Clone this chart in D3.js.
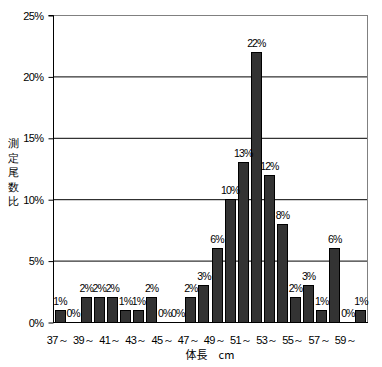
<!DOCTYPE html>
<html><head><meta charset="utf-8">
<script src="https://cdn.jsdelivr.net/npm/d3@7"></script>
<style>
body{margin:0;background:#fff;}
svg text{font-family:"Liberation Sans",Arial,sans-serif;fill:#000;}
</style></head>
<body><svg id="c" width="382" height="367"></svg>
<script>
const categories = ["37","38","39","40","41","42","43","44","45","46","47","48","49","50","51","52","53","54","55","56","57","58","59","60"];
const values = [1,0,2,2,2,1,1,2,0,0,2,3,6,10,13,22,12,8,2,3,1,6,0,1];
const xTickLabels = ["37～","39～","41～","43～","45～","47～","49～","51～","53～","55～","57～","59～"];
const yTicks = [0,5,10,15,20,25];
const yTitle = "測定尾数比";
const xTitle = "体長　cm";

const svg = d3.select("#c");
const L = 53, R = 367, T = 15, B = 322;
const x = d3.scaleBand().domain(categories).range([L, R]).paddingInner(0.23).paddingOuter(0.115);
const y = d3.scaleLinear().domain([0, 25]).range([B, T]);

// gridlines
svg.append("g").selectAll("line").data(yTicks.filter(t => t > 0 && t < 25)).join("line")
  .attr("x1", L).attr("x2", R).attr("y1", d => y(d) + 0.5).attr("y2", d => y(d) + 0.5)
  .attr("stroke", "#000").attr("stroke-width", 1);
// top & right border gray
svg.append("line").attr("x1", L).attr("x2", R).attr("y1", y(25) + 0.5).attr("y2", y(25) + 0.5).attr("stroke", "#808080");
svg.append("line").attr("x1", R + 0.5).attr("x2", R + 0.5).attr("y1", T).attr("y2", B).attr("stroke", "#808080");

// bars
svg.append("g").selectAll("rect").data(values).join("rect")
  .attr("x", (d, i) => Math.round(x(categories[i])) + 0.5)
  .attr("width", Math.round(x.bandwidth()))
  .attr("y", d => Math.round(y(d)) + 0.5)
  .attr("height", d => Math.max(0, B - Math.round(y(d))))
  .attr("fill", "#333333").attr("stroke", "#000").attr("stroke-width", 1)
  .style("display", d => d > 0 ? null : "none");

// bar labels
svg.append("g").selectAll("text").data(values).join("text")
  .attr("x", (d, i) => x(categories[i]) + x.bandwidth() / 2 + 0.5)
  .attr("y", d => y(d) - 5)
  .attr("text-anchor", "middle").attr("font-size", 10.5).attr("letter-spacing", "-0.9")
  .text(d => d + "%");

// y axis
const yAxis = d3.axisLeft(y).tickValues(yTicks).tickFormat(d => d + "%").tickSize(5).tickPadding(5);
const ga = svg.append("g").attr("transform", `translate(${L + 0.5},0.5)`).call(yAxis);
ga.select(".domain").attr("stroke", "#000").attr("d", `M-5,${T}H0V${B}`);
ga.selectAll(".tick line").attr("stroke", "#000");
ga.selectAll("text").attr("font-size", 11).attr("letter-spacing", "-0.6").attr("fill", "#000")
  .attr("font-family", "Liberation Sans, Arial, sans-serif");

// x axis baseline
const xAxis = d3.axisBottom(x).tickValues(categories.filter((c, i) => i % 2 === 0))
  .tickFormat((d, i) => xTickLabels[i]).tickSize(0).tickPadding(14);
const gx = svg.append("g").attr("transform", `translate(0,${B + 0.5})`).call(xAxis);
gx.select(".domain").attr("stroke", "#000").attr("d", `M${L},0H${R + 1}`);
gx.selectAll("text").attr("font-size", 11).attr("letter-spacing", "-0.6").attr("fill", "#000")
  .attr("dx", "-2")
  .attr("font-family", "Liberation Sans, Arial, sans-serif");

// titles
svg.append("text").attr("x", 210).attr("y", 359).attr("text-anchor", "middle")
  .attr("font-size", 11).style("font-family", "'Noto Sans CJK JP', sans-serif").text(xTitle);
const yt = svg.append("g").style("font-family", "'Noto Sans CJK JP', sans-serif");
yt.selectAll("text").data(Array.from(yTitle)).join("text")
  .attr("text-anchor", "middle").attr("font-size", 11)
  .attr("x", 13).attr("y", (d, i) => 147 + i * 14.5).text(d => d);
</script></body></html>
